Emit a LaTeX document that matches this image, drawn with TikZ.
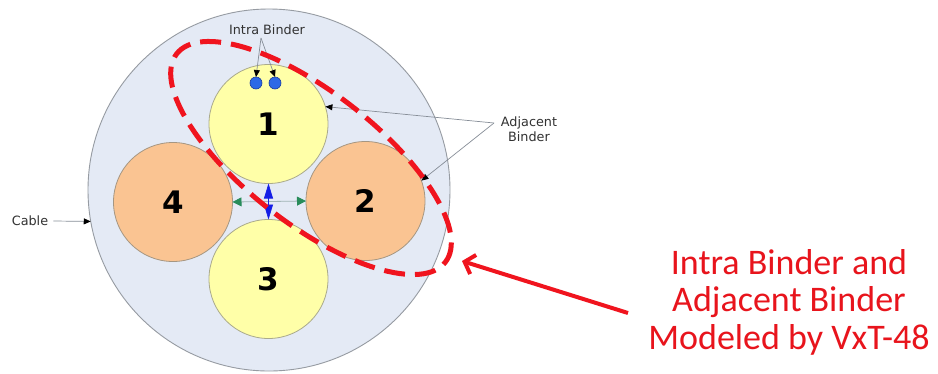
\documentclass[tikz,border=0pt]{standalone}
\usepackage{fontspec}
\setmainfont{DejaVu Sans}
\newfontfamily\calib{Carlito}
\usetikzlibrary{arrows.meta}
\definecolor{cablefill}{RGB}{228,234,245}
\definecolor{cableline}{RGB}{150,155,162}
\definecolor{yfill}{RGB}{255,255,168}
\definecolor{yline}{RGB}{170,170,140}
\definecolor{ofill}{RGB}{250,196,146}
\definecolor{oline}{RGB}{165,150,130}
\definecolor{dotblue}{RGB}{45,105,230}
\definecolor{dotline}{RGB}{25,60,160}
\definecolor{myred}{RGB}{240,20,30}
\definecolor{txtred}{RGB}{232,20,28}
\definecolor{lgrey}{RGB}{135,142,152}
\definecolor{dgrey}{RGB}{50,50,50}
\definecolor{mygreen}{RGB}{40,140,90}
\definecolor{glight}{RGB}{160,180,180}
\definecolor{arrblue}{RGB}{20,30,230}
\tikzset{
  cablec/.style={circle,draw=cableline,fill=cablefill,line width=0.9pt,inner sep=0pt,outer sep=0pt,minimum size=362pt},
  ycirc/.style={circle,draw=yline,fill=yfill,line width=0.8pt,inner sep=0pt,outer sep=0pt,minimum size=119pt,font=\fontsize{31}{31}\selectfont\bfseries},
  ocirc/.style={circle,draw=oline,fill=ofill,line width=0.8pt,inner sep=0pt,outer sep=0pt,minimum size=119pt,font=\fontsize{31}{31}\selectfont\bfseries},
  bdot/.style={circle,draw=dotline,fill=dotblue,line width=0.6pt,inner sep=0pt,outer sep=0pt,minimum size=12pt},
  smalllabel/.style={text=dgrey,font=\fontsize{12.8}{15}\selectfont,inner sep=1pt,align=center},
  pointer/.style={draw=lgrey,line width=0.7pt,-{Triangle[length=7pt,width=6pt,color=black]}},
  greenarr/.style={draw=glight,line width=0.8pt,{Triangle[length=9pt,width=9pt,color=mygreen]}-{Triangle[length=9pt,width=9pt,color=mygreen]}},
  bluearr/.style={draw=arrblue,line width=0.6pt,{Triangle[length=15pt,width=9pt,color=arrblue]}-{Triangle[length=15pt,width=9pt,color=arrblue]}},
  redring/.style={draw=myred,line width=5pt,dash pattern=on 21pt off 10pt},
  redarrow/.style={draw=myred,line width=4pt,-{Straight Barb[length=9pt,width=20pt]}},
  redtext/.style={text=txtred,font=\calib\fontsize{36}{37.5}\selectfont,align=center}
}
\begin{document}
\begin{tikzpicture}[x=1pt,y=-1pt]
\useasboundingbox (0,0) rectangle (938,373);
\fill[white] (0,0) rectangle (938,373);
% cable
\node[cablec] (cable) at (269,190) {};
% binders
\node[ycirc] (c1) at (268.5,124) {\raisebox{-3pt}{1}};
\node[ocirc] (c2) at (365.5,201) {\raisebox{-3pt}{2}};
\node[ycirc] (c3) at (268.5,279) {\raisebox{-4pt}{3}};
\node[ocirc] (c4) at (173,202) {\raisebox{-2pt}{4}\hspace{12pt}};
% pair dots
\node[bdot] (d1) at (256,83) {};
\node[bdot] (d2) at (275,83) {};
% labels
\node[smalllabel] (ib) at (267,30) {Intra Binder};
\node[smalllabel] (adj) at (529,129) {Adjacent\\Binder};
\node[smalllabel] (cab) at (30,221) {Cable};
\coordinate (ibf) at (261,38);
\coordinate (adjf) at (494,123);
% pointers
\draw[pointer] (ibf) -- (d1.north);
\draw[pointer] (ibf) -- (d2.north);
\draw[pointer] (adjf) -- (c1.17);
\draw[pointer] (adjf) -- (c2.20);
\draw[pointer] (cab.east) ++(4pt,0) -- (cable.190);
% crosstalk arrows
\draw[greenarr] (c4.east) -- (c2.west);
\draw[bluearr] (c1.south) -- (c3.north);
% red dashed ellipse
\draw[redring,rotate around={-37.8:(311,158)}] (311,158) ellipse [x radius=170pt, y radius=66pt];
% red text and arrow
\node[redtext] (rt) at (789,302) {Intra Binder and\\Adjacent Binder\\Modeled by VxT-48};
\coordinate (rs) at (628,313);
\coordinate (rtip) at (462,261);
\draw[redarrow] (rs) -- (rtip);
\end{tikzpicture}
\end{document}
